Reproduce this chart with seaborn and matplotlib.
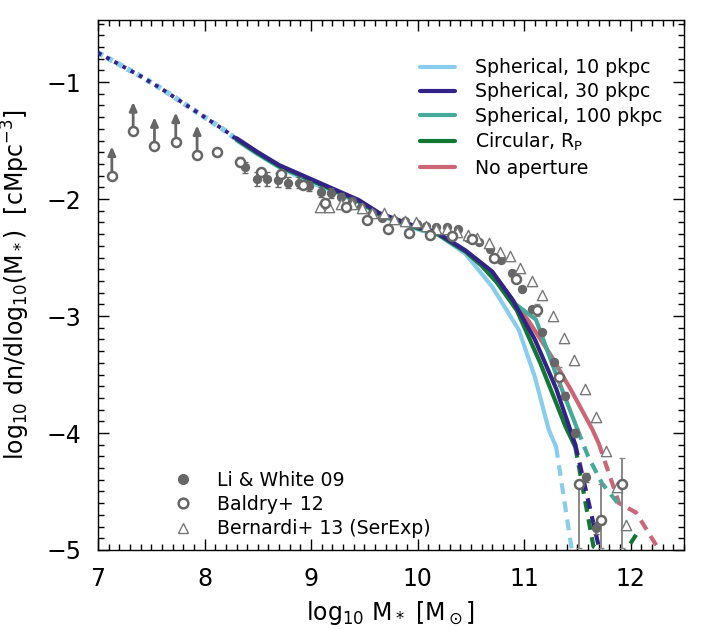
import numpy as np
import matplotlib
matplotlib.use("Agg")
import matplotlib.pyplot as plt
import seaborn as sns
from matplotlib.lines import Line2D
from matplotlib.ticker import MultipleLocator

# ---- simulation curves (solid part + dashed tail) ----
dotted_x = [7.0, 7.2, 7.4, 7.6, 7.8, 8.0, 8.2, 8.3]
dotted_y = [-0.75, -0.85, -0.95, -1.06, -1.18, -1.30, -1.42, -1.49]

s10_x = [8.3, 8.5, 8.7, 9.0, 9.45, 9.64, 10.0, 10.2, 10.45, 10.7, 10.95, 11.1, 11.23, 11.3]
s10_y = [-1.50, -1.62, -1.73, -1.86, -2.03, -2.14, -2.26, -2.31, -2.47, -2.75, -3.12, -3.52, -3.97, -4.12]
s10_tail_x = [11.3, 11.45]
s10_tail_y = [-4.12, -5.02]

s30_x = [8.3, 8.5, 8.7, 9.0, 9.45, 9.64, 10.0, 10.17, 10.45, 10.7, 10.89, 11.1, 11.3, 11.48]
s30_y = [-1.48, -1.60, -1.71, -1.83, -2.01, -2.12, -2.24, -2.28, -2.44, -2.62, -2.86, -3.2, -3.62, -4.1]
s30_tail_x = [11.48, 11.72]
s30_tail_y = [-4.1, -5.05]

s100_x = [8.3, 8.5, 8.7, 9.0, 9.45, 9.64, 10.0, 10.17, 10.45, 10.7, 10.92, 11.11, 11.3, 11.5]
s100_y = [-1.49, -1.61, -1.72, -1.84, -2.02, -2.13, -2.25, -2.29, -2.45, -2.63, -2.9, -3.03, -3.5, -3.97]
s100_tail_x = [11.5, 11.6, 11.73, 11.88]
s100_tail_y = [-3.97, -4.2, -4.43, -4.6]

circ_x = [8.3, 8.5, 8.7, 9.0, 9.45, 9.64, 10.0, 10.17, 10.45, 10.6, 10.74, 10.93, 11.15, 11.39, 11.48]
circ_y = [-1.49, -1.61, -1.72, -1.84, -2.02, -2.13, -2.25, -2.29, -2.45, -2.57, -2.71, -2.95, -3.4, -3.95, -4.12]
circ_tail_x = [11.48, 11.65, 11.8, 11.93, 12.05]
circ_tail_y = [-4.12, -4.97, -5.05, -5.04, -4.87]

noap_x = [8.3, 8.5, 8.7, 9.0, 9.45, 9.64, 10.0, 10.17, 10.45, 10.7, 10.92, 11.04, 11.26, 11.45, 11.64, 11.7]
noap_y = [-1.49, -1.61, -1.72, -1.84, -2.02, -2.13, -2.25, -2.29, -2.45, -2.63, -2.9, -3.04, -3.35, -3.65, -3.97, -4.09]
noap_tail_x = [11.7, 11.89, 12.05, 12.28]
noap_tail_y = [-4.09, -4.6, -4.68, -5.02]

# ---- observations ----
lw_x = [8.38, 8.49, 8.59, 8.69, 8.78, 8.89, 8.98, 9.09, 9.19, 9.28, 9.38, 9.47, 9.57, 9.67,
        9.78, 9.88, 9.99, 10.08, 10.17, 10.28, 10.38, 10.47, 10.58, 10.68, 10.78, 10.89,
        10.98, 11.07, 11.17, 11.28, 11.38, 11.48, 11.58, 11.67]
lw_y = [-1.73, -1.83, -1.83, -1.84, -1.86, -1.86, -1.89, -1.94, -1.95, -1.98, -2.02, -2.07,
        -2.12, -2.16, -2.18, -2.19, -2.21, -2.23, -2.24, -2.24, -2.26, -2.33, -2.37, -2.43,
        -2.52, -2.63, -2.77, -2.94, -3.14, -3.39, -3.68, -4.0, -4.38, -4.81]
lw_err = [0.05, 0.06, 0.06, 0.06, 0.05, 0.05, 0.04, 0.04, 0.04, 0.03, 0.03, 0.03, 0.03, 0.02,
          0.02, 0.02, 0.02, 0.02, 0.02, 0.02, 0.02, 0.02, 0.02, 0.02, 0.02, 0.02, 0.02, 0.02,
          0.02, 0.02, 0.03, 0.03, 0.04, 0.05]

bal_x = [7.13, 7.33, 7.53, 7.73, 7.93, 8.12, 8.33, 8.53, 8.72, 8.92, 9.13, 9.33, 9.52, 9.72,
         9.92, 10.12, 10.32, 10.51, 10.72, 10.92, 11.12, 11.33, 11.51, 11.72, 11.92]
bal_y = [-1.80, -1.42, -1.55, -1.51, -1.62, -1.60, -1.68, -1.77, -1.79, -1.88, -2.03, -2.07,
         -2.18, -2.26, -2.29, -2.31, -2.32, -2.34, -2.50, -2.68, -2.95, -3.52, -4.44, -4.74, -4.44]
bal_err_lo = [0.0, 0.0, 0.0, 0.0, 0.0, 0.03, 0.04, 0.03, 0.03, 0.03, 0.02, 0.02, 0.02, 0.02,
              0.02, 0.02, 0.02, 0.02, 0.02, 0.03, 0.05, 0.08, 0.54, 0.24, 0.54]
bal_err_hi = [0.0, 0.0, 0.0, 0.0, 0.0, 0.03, 0.04, 0.03, 0.03, 0.03, 0.02, 0.02, 0.02, 0.02,
              0.02, 0.02, 0.02, 0.02, 0.02, 0.03, 0.05, 0.08, 0.03, 0.30, 0.23]
bal_limit = [True, True, True, True, True] + [False] * 20

ber_x = [9.08, 9.17, 9.28, 9.38, 9.48, 9.57, 9.68, 9.78, 9.88, 9.98, 10.08, 10.17, 10.28,
         10.37, 10.47, 10.56, 10.67, 10.77, 10.87, 10.96, 11.07, 11.17, 11.27, 11.37, 11.47,
         11.57, 11.67, 11.77, 11.87, 11.96]
ber_y = [-2.07, -2.07, -2.04, -2.04, -2.08, -2.12, -2.12, -2.17, -2.19, -2.20, -2.23, -2.26,
         -2.26, -2.28, -2.31, -2.33, -2.38, -2.45, -2.49, -2.59, -2.70, -2.82, -3.00, -3.19,
         -3.38, -3.62, -3.86, -4.15, -4.46, -4.79]

labels = ["Spherical, 10 pkpc", "Spherical, 30 pkpc", "Spherical, 100 pkpc",
          r"Circular, R$_\mathregular{P}$", "No aperture"]
colors = ["#88CCEE", "#332288", "#44AA99", "#117733", "#CC6677"]
obs_labels = ["Li & White 09", "Baldry+ 12", "Bernardi+ 13 (SerExp)"]
GREY = "#666666"

sns.set_style("ticks")
plt.rcParams["font.family"] = ["DejaVu Sans"]
plt.rcParams["mathtext.default"] = "regular"
for key in ["text.color", "axes.labelcolor", "xtick.color", "ytick.color"]:
    plt.rcParams[key] = "black"

fig = plt.figure(figsize=(7.28, 6.29), dpi=100)
ax = fig.add_axes([0.1346, 0.1256, 0.805, 0.8426])

# dotted low-mass extension (two colours on top of each other)
ax.plot(dotted_x, dotted_y, color=colors[0], lw=4.0, ls=(0, (1.0, 1.0)), zorder=2)
ax.plot(dotted_x, dotted_y, color=colors[1], lw=2.8, ls=(0, (1.0, 1.4)), zorder=3)

curves = [(s10_x, s10_y, s10_tail_x, s10_tail_y, 0, 3),
          (noap_x, noap_y, noap_tail_x, noap_tail_y, 4, 2),
          (s100_x, s100_y, s100_tail_x, s100_tail_y, 2, 4),
          (circ_x, circ_y, circ_tail_x, circ_tail_y, 3, 5),
          (s30_x, s30_y, s30_tail_x, s30_tail_y, 1, 6)]
for cx, cy, tx, ty, ci, z in curves:
    sns.lineplot(x=cx, y=cy, ax=ax, color=colors[ci], lw=3.0, sort=False, zorder=z)
    sns.lineplot(x=tx, y=ty, ax=ax, color=colors[ci], lw=3.0, sort=False, zorder=z,
                 linestyle=(0, (2.6, 1.8)))

# Li & White 09
ax.errorbar(lw_x, lw_y, yerr=lw_err, fmt="none", ecolor=GREY, elinewidth=1.2,
            capsize=2.5, zorder=7)
sns.scatterplot(x=lw_x, y=lw_y, ax=ax, marker="o", s=45, color=GREY, edgecolor=GREY,
                linewidth=0, zorder=8)

# Bernardi+ 13
sns.scatterplot(x=ber_x, y=ber_y, ax=ax, marker="^", s=55, color="white",
                edgecolor="#777777", linewidth=1.0, zorder=8)

# Baldry+ 12
ax.errorbar(bal_x, bal_y, yerr=[bal_err_lo, bal_err_hi], fmt="none", ecolor="#888888",
            elinewidth=1.4, capsize=2.5, zorder=7)
sns.scatterplot(x=bal_x, y=bal_y, ax=ax, marker="o", s=42, color="white",
                edgecolor=GREY, linewidth=1.8, zorder=9)
for bx, by, lim in zip(bal_x, bal_y, bal_limit):
    if lim:
        ax.annotate("", xy=(bx, by + 0.25), xytext=(bx, by + 0.04),
                    arrowprops=dict(arrowstyle="-|>,head_length=0.5,head_width=0.22",
                                    color=GREY, lw=2.0, shrinkA=0, shrinkB=0), zorder=8)

ax.set_xlim(7, 12.5)
ax.set_ylim(-5.0, -0.47)
ax.xaxis.set_major_locator(MultipleLocator(1))
ax.xaxis.set_minor_locator(MultipleLocator(0.1))
ax.yaxis.set_major_locator(MultipleLocator(1))
ax.yaxis.set_minor_locator(MultipleLocator(0.1))
ax.tick_params(which="both", direction="in", top=True, right=True, width=1.0,
               color="black", labelsize=17, pad=12)
ax.tick_params(which="major", length=8)
ax.tick_params(which="minor", length=4)
for sp in ax.spines.values():
    sp.set_visible(True)
    sp.set_linewidth(1.0)
    sp.set_color("black")

ax.set_xlabel(r"log$_{10}$ M$_*$ [M$_\odot$]", fontsize=17, labelpad=6)
ax.set_ylabel(r"log$_{10}$ dn/dlog$_{10}$(M$_*$)  [cMpc$^{-3}$]", fontsize=17, labelpad=10)

sim_handles = [Line2D([], [], color=c, lw=3.0) for c in colors]
leg1 = ax.legend(sim_handles, labels, loc="upper left", bbox_to_anchor=(0.52, 0.96),
                 frameon=False, fontsize=13.6, handlelength=1.85, handletextpad=1.05,
                 labelspacing=0.28)
ax.add_artist(leg1)

obs_handles = [Line2D([], [], ls="none", marker="o", ms=7, color=GREY),
               Line2D([], [], ls="none", marker="o", ms=7, mfc="white", mec=GREY, mew=1.8),
               Line2D([], [], ls="none", marker="^", ms=7.5, mfc="white", mec="#777777", mew=1)]
ax.legend(obs_handles, obs_labels, loc="upper left", bbox_to_anchor=(0.083, 0.182),
          frameon=False, fontsize=13.6, handletextpad=0.85, labelspacing=0.28)

fig.savefig("out.png", dpi=100)
